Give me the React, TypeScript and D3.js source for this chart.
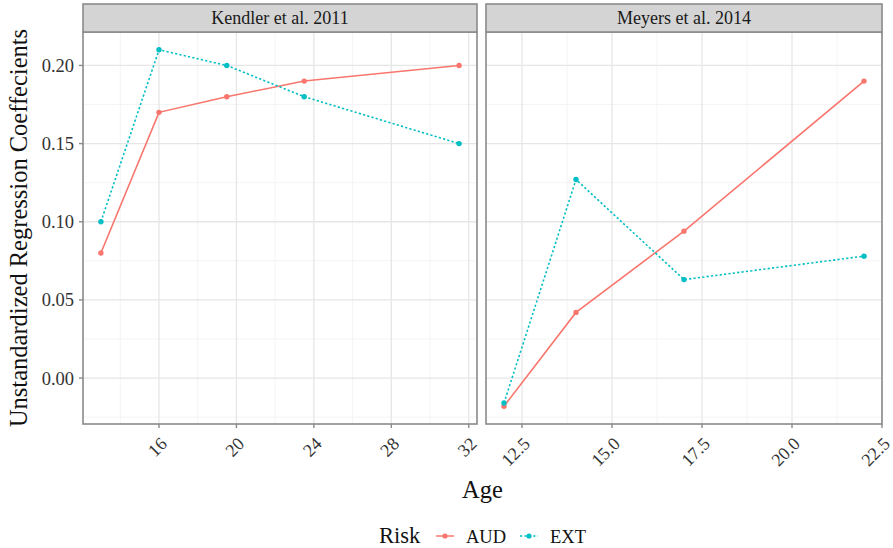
import * as d3 from 'd3'

// Kendler et al. 2011
const kendlerAge = [13, 16, 19.5, 23.5, 31.5]
const kendlerAUD = [0.08, 0.17, 0.18, 0.19, 0.2]
const kendlerEXT = [0.1, 0.21, 0.2, 0.18, 0.15]
const kendlerTicks = [16, 20, 24, 28, 32]

// Meyers et al. 2014
const meyersAge = [12, 14, 17, 22]
const meyersAUD = [-0.018, 0.042, 0.094, 0.19]
const meyersEXT = [-0.016, 0.127, 0.063, 0.078]
const meyersTicks = [12.5, 15, 17.5, 20, 22.5]

const yTicks = [0, 0.05, 0.1, 0.15, 0.2]
const riskLevels = ['AUD', 'EXT']
const riskColors = ['#F8766D', '#00BFC4']
const riskDash = [null, '2.2,2.2']

const W = 893
const H = 548
const FONT = '"Liberation Serif", "DejaVu Serif", serif'

const top = 32
const bottom = 424
const stripTop = 4

const panels = [
  { title: 'Kendler et al. 2011', x0: 83, x1: 477, age: kendlerAge, series: [kendlerAUD, kendlerEXT], ticks: kendlerTicks, fmt: d3.format('d') },
  { title: 'Meyers et al. 2014', x0: 486, x1: 882, age: meyersAge, series: [meyersAUD, meyersEXT], ticks: meyersTicks, fmt: d3.format('.1f') },
]

function expand(ext: [number, number]): [number, number] {
  const pad = (ext[1] - ext[0]) * 0.05
  return [ext[0] - pad, ext[1] + pad]
}

const allY = [...kendlerAUD, ...kendlerEXT, ...meyersAUD, ...meyersEXT]
const y = d3.scaleLinear().domain(expand(d3.extent(allY) as [number, number])).range([bottom, top])

function midpoints(t: number[]) {
  const step = t[1] - t[0]
  const out = [t[0] - step / 2]
  t.forEach(v => out.push(v + step / 2))
  return out
}

function Panel({ p }: { p: typeof panels[number] }) {
  const x = d3.scaleLinear().domain(expand(d3.extent(p.age) as [number, number])).range([p.x0, p.x1])
  const [dx0, dx1] = x.domain()
  const [dy0, dy1] = y.domain()
  const xMinor = midpoints(p.ticks).filter(v => v > dx0 && v < dx1)
  const yMinor = midpoints(yTicks).filter(v => v > dy0 && v < dy1)
  const xMajor = p.ticks.filter(v => v >= dx0 - 1e-9 && v <= dx1 + 1e-9)
  const line = d3.line<number>().x((_, i) => x(p.age[i])).y(d => y(d))
  return (
    <g>
      <rect x={p.x0} y={top} width={p.x1 - p.x0} height={bottom - top} fill="#fff" />
      {xMinor.map(v => (
        <line key={'xm' + v} x1={x(v)} x2={x(v)} y1={top} y2={bottom} stroke="#F4F4F4" strokeWidth={1} />
      ))}
      {yMinor.map(v => (
        <line key={'ym' + v} x1={p.x0} x2={p.x1} y1={y(v)} y2={y(v)} stroke="#F4F4F4" strokeWidth={1} />
      ))}
      {xMajor.map(v => (
        <line key={'xM' + v} x1={x(v)} x2={x(v)} y1={top} y2={bottom} stroke="#E6E6E6" strokeWidth={1.3} />
      ))}
      {yTicks.map(v => (
        <line key={'yM' + v} x1={p.x0} x2={p.x1} y1={y(v)} y2={y(v)} stroke="#E6E6E6" strokeWidth={1.3} />
      ))}
      {p.series.map((s, i) => (
        <g key={riskLevels[i]}>
          <path d={line(s) || ''} fill="none" stroke={riskColors[i]} strokeWidth={1.6}
            strokeDasharray={riskDash[i] || undefined} />
          {s.map((v, j) => (
            <circle key={j} cx={x(p.age[j])} cy={y(v)} r={2.7} fill={riskColors[i]} />
          ))}
        </g>
      ))}
      <rect x={p.x0} y={top} width={p.x1 - p.x0} height={bottom - top} fill="none" stroke="#8a8a8a" strokeWidth={1.6} />
      <rect x={p.x0} y={stripTop} width={p.x1 - p.x0} height={top - stripTop} fill="#D4D4D4" stroke="#8a8a8a" strokeWidth={1.6} />
      <text x={(p.x0 + p.x1) / 2} y={(stripTop + top) / 2 + 6} textAnchor="middle" fontSize={18} fill="#1a1a1a"
        fontFamily={FONT}>
        {p.title}
      </text>
      {xMajor.map(v => (
        <g key={'xt' + v}>
          <line x1={x(v)} x2={x(v)} y1={bottom} y2={bottom + 4} stroke="#8a8a8a" strokeWidth={1.4} />
          <text transform={`translate(${x(v) + 9},${bottom + 21}) rotate(-45)`} textAnchor="end"
            fontSize={18} fill="#333" fontFamily={FONT}>
            {p.fmt(v)}
          </text>
        </g>
      ))}
    </g>
  )
}

export default function App() {
  const left = panels[0].x0
  return (
    <svg width={W} height={H} style={{ display: 'block', position: 'absolute', left: 0, top: 0, background: '#fff' }}
      fontFamily={FONT}>
      <rect width={W} height={H} fill="#fff" />
      {panels.map(p => <Panel key={p.title} p={p} />)}
      {yTicks.map(v => (
        <g key={'yt' + v}>
          <line x1={left - 4} x2={left} y1={y(v)} y2={y(v)} stroke="#8a8a8a" strokeWidth={1.4} />
          <text x={left - 9} y={y(v)} dy="0.35em" textAnchor="end" fontSize={18.5} fill="#333" fontFamily={FONT}>
            {d3.format('.2f')(v)}
          </text>
        </g>
      ))}
      <text transform={`translate(27,${(top + bottom) / 2}) rotate(-90)`} textAnchor="middle" fontSize={24.5}
        fill="#111" fontFamily={FONT}>
        Unstandardized Regression Coeffecients
      </text>
      <text x={(panels[0].x0 + panels[1].x1) / 2} y={498} textAnchor="middle" fontSize={24.5} fill="#111"
        fontFamily={FONT}>Age</text>
      <g transform="translate(0,536)">
        <text x={379} y={7} fontSize={22.5} fill="#111" fontFamily={FONT}>Risk</text>
        {riskLevels.map((r, i) => {
          const kx = [436, 520][i]
          return (
            <g key={r}>
              <line x1={kx} x2={kx + 18} y1={0} y2={0} stroke={riskColors[i]} strokeWidth={1.5}
                strokeDasharray={riskDash[i] || undefined} />
              <circle cx={kx + 9} cy={0} r={2.6} fill={riskColors[i]} />
              <text x={kx + 30} y={7} fontSize={18.5} fill="#111" fontFamily={FONT}>{r}</text>
            </g>
          )
        })}
      </g>
    </svg>
  )
}
